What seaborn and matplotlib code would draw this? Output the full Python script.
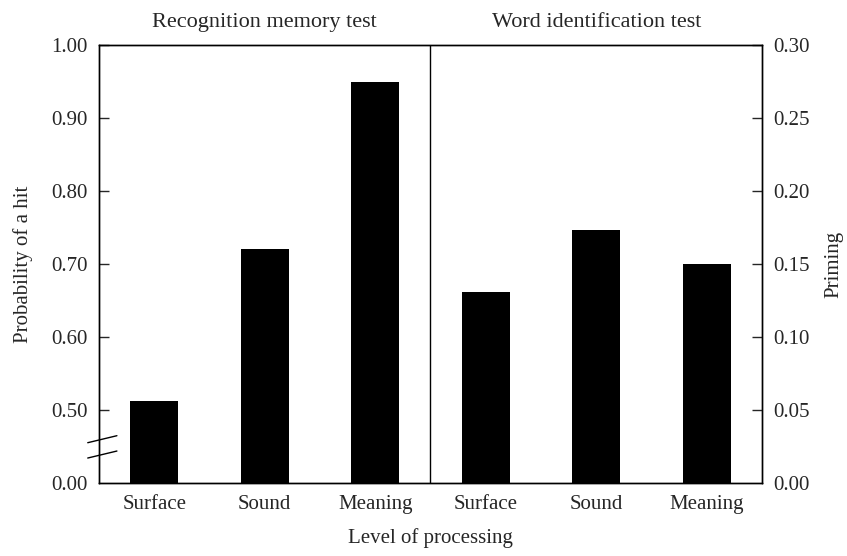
import matplotlib
matplotlib.use("Agg")
import matplotlib.pyplot as plt
import seaborn as sns
import pandas as pd

sns.set_style("white")
plt.rcParams['font.family'] = ['Liberation Serif', 'DejaVu Serif']

levels = ["Surface", "Sound", "Meaning"]
recognition_hits = [0.512, 0.72, 0.95]
identification_priming = [0.131, 0.173, 0.15]
left_ticks = [0.40, 0.50, 0.60, 0.70, 0.80, 0.90, 1.00]
left_tick_labels = ["0.00", "0.50", "0.60", "0.70", "0.80", "0.90", "1.00"]
right_ticks = [0.00, 0.05, 0.10, 0.15, 0.20, 0.25, 0.30]
right_tick_labels = ["0.00", "0.05", "0.10", "0.15", "0.20", "0.25", "0.30"]

df_left = pd.DataFrame({"pos": [0, 1, 2], "value": recognition_hits})
df_right = pd.DataFrame({"pos": [3, 4, 5], "value": identification_priming})

fig = plt.figure(figsize=(8.47, 5.56), dpi=100)
ax = fig.add_axes([0.1169, 0.1313, 0.7827, 0.7877])
ax2 = ax.twinx()

sns.barplot(data=df_left, x="pos", y="value", native_scale=True, color="black",
            width=0.434, ax=ax, saturation=1, edgecolor="black", linewidth=0)
sns.barplot(data=df_right, x="pos", y="value", native_scale=True, color="black",
            width=0.434, ax=ax2, saturation=1, edgecolor="black", linewidth=0)

ax.set_xlim(-0.5, 5.5)
ax.set_ylim(0.40, 1.00)
ax2.set_ylim(0.0, 0.30)

ax.set_yticks(left_ticks)
ax.set_yticklabels(left_tick_labels, fontsize=15)
ax2.set_yticks(right_ticks)
ax2.set_yticklabels(right_tick_labels, fontsize=15)

ax.set_xticks(range(6))
ax.set_xticklabels(levels + levels, fontsize=15)
ax.tick_params(axis="x", length=0, pad=9)
ax.tick_params(axis="y", direction="in", length=7, width=1, pad=8, left=True, right=False)
ax2.tick_params(axis="y", direction="in", length=7, width=1, pad=8, right=True, left=False)
ax.yaxis.get_major_ticks()[0].tick1line.set_visible(False)
ax2.yaxis.get_major_ticks()[0].tick2line.set_visible(False)

ax.set_xlabel("Level of processing", fontsize=15, labelpad=10)
ax.set_ylabel("Probability of a hit", fontsize=15, labelpad=13)
ax2.set_ylabel("Priming", fontsize=15, labelpad=11)

for a in (ax, ax2):
    for s in a.spines.values():
        s.set_color("black")
        s.set_linewidth(1.0)

ax.axvline(2.5, color="black", linewidth=1.0)

ax.text(1.0, 1.03, "Recognition memory test", transform=ax.get_xaxis_transform(),
        ha="center", va="bottom", fontsize=16)
ax.text(4.0, 1.03, "Word identification test", transform=ax.get_xaxis_transform(),
        ha="center", va="bottom", fontsize=16)

# axis break marks
for yc in (0.10, 0.065):
    ax.plot([-0.017, 0.027], [yc - 0.008, yc + 0.008], transform=ax.transAxes,
            color="black", linewidth=1.0, clip_on=False)

fig.savefig("out.png", dpi=100)
